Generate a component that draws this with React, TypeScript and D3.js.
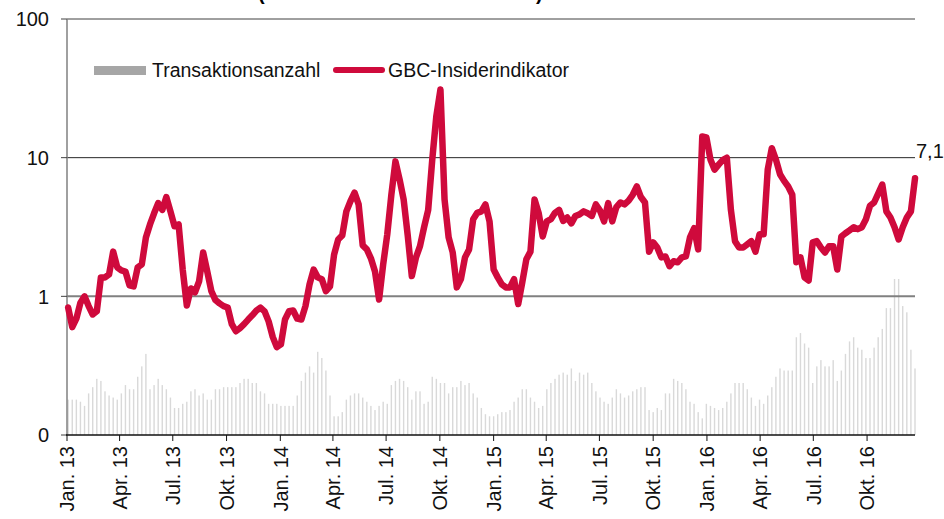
import { useRef, useEffect } from "react";
import * as d3 from "d3";

// weekly observations, first one on Thu 3 Jan 2013
const firstWeek = new Date(2013, 0, 3);

// GBC-Insiderindikator (log scale)
const indicator = [
  0.83, 0.6, 0.69, 0.9, 1.0, 0.85, 0.74, 0.78, 1.37, 1.37,
  1.44, 2.1, 1.62, 1.54, 1.51, 1.2, 1.18, 1.62, 1.7, 2.66,
  3.3, 3.97, 4.7, 4.2, 5.2, 4.1, 3.2, 3.3, 1.56, 0.86,
  1.14, 1.07, 1.28, 2.07, 1.51, 1.09, 0.94, 0.89, 0.85, 0.83,
  0.63, 0.56, 0.59, 0.63, 0.68, 0.73, 0.79, 0.83, 0.78, 0.66,
  0.51, 0.43, 0.45, 0.68, 0.78, 0.79, 0.69, 0.68, 0.85, 1.22,
  1.56, 1.37, 1.33, 1.09, 1.18, 2.0, 2.57, 2.75, 4.1, 4.85,
  5.6, 4.6, 2.33, 2.18, 1.88, 1.51, 0.95, 1.7, 2.8, 5.4,
  9.4, 7.0, 5.0, 2.75, 1.4, 1.9, 2.3, 3.15, 4.2, 9.7,
  20, 31, 5.0, 2.66, 2.07, 1.16, 1.33, 1.91, 2.18, 3.6,
  4.0, 4.1, 4.6, 3.47, 1.56, 1.37, 1.22, 1.16, 1.16, 1.33,
  0.88, 1.26, 1.85, 2.1, 5.0, 4.0, 2.7, 3.47, 3.6, 4.0,
  4.2, 3.5, 3.7, 3.36, 3.8, 3.9, 4.1, 3.97, 3.8, 4.6,
  4.15, 3.47, 4.7, 3.47, 4.4, 4.75, 4.6, 4.9, 5.4, 6.2,
  5.2, 4.75, 2.1, 2.45, 2.25, 1.91, 1.94, 1.65, 1.79, 1.76,
  1.91, 1.94, 2.66, 3.1, 2.18, 14.2, 14, 9.7, 8.2, 8.9,
  9.6, 10, 4.2, 2.5, 2.25, 2.25, 2.37, 2.5, 2.1, 2.8,
  2.8, 8.2, 11.7, 9.7, 7.6, 6.8, 6.2, 5.4, 1.76, 1.91,
  1.37, 1.3, 2.45, 2.5, 2.25, 2.07, 2.3, 2.3, 1.56, 2.7,
  2.85, 2.99, 3.15, 3.05, 3.15, 3.6, 4.5, 4.75, 5.5, 6.4,
  4.1, 3.7, 3.15, 2.57, 3.15, 3.7, 4.1, 7.1,
];

// Transaktionsanzahl per week (no visible axis)
const transactions = [
  17, 17, 17, 16, 14, 20, 23, 27, 26, 21,
  19, 18, 17, 20, 24, 22, 22, 28, 33, 39,
  22, 24, 27, 24, 22, 18, 13, 13, 15, 16,
  21, 22, 19, 20, 17, 17, 22, 22, 23, 23,
  23, 23, 25, 27, 27, 25, 25, 21, 20, 15,
  15, 15, 14, 14, 14, 14, 19, 26, 30, 33,
  30, 40, 37, 31, 19, 9, 9, 11, 17, 19,
  20, 20, 18, 16, 14, 12, 14, 16, 15, 24,
  26, 27, 26, 23, 17, 21, 21, 15, 16, 28,
  27, 25, 25, 20, 23, 23, 26, 24, 25, 20,
  18, 13, 10, 9, 9, 10, 11, 11, 12, 16,
  18, 22, 22, 18, 16, 13, 14, 22, 25, 27,
  29, 30, 29, 32, 26, 30, 29, 30, 25, 21,
  18, 16, 15, 18, 22, 20, 18, 19, 21, 22,
  23, 23, 12, 11, 13, 12, 20, 20, 27, 26,
  25, 22, 16, 15, 11, 8, 15, 14, 13, 12,
  13, 16, 20, 25, 25, 25, 22, 18, 14, 17,
  15, 19, 23, 28, 32, 31, 31, 31, 47, 49,
  44, 42, 25, 33, 36, 33, 33, 36, 26, 31,
  39, 45, 47, 42, 41, 37, 37, 42, 47, 51,
  61, 61, 75, 75, 62, 59, 41, 32,
];

const quarterLabels = [
  "Jan. 13", "Apr. 13", "Jul. 13", "Okt. 13",
  "Jan. 14", "Apr. 14", "Jul. 14", "Okt. 14",
  "Jan. 15", "Apr. 15", "Jul. 15", "Okt. 15",
  "Jan. 16", "Apr. 16", "Jul. 16", "Okt. 16",
];

const yTicks = [0.1, 1, 10, 100];
const lastValueLabel = "7,1";

const FONT = "'Liberation Sans', Arial, sans-serif";
const RED = "#cf0a3c";

const App = () => {
  const svgRef = useRef<SVGSVGElement | null>(null);

  useEffect(() => {
    if (!svgRef.current) return;
    const width = 944;
    const height = 519;
    const left = 67;
    const right = 915;
    const top = 19;
    const bottom = 435;

    const svg = d3
      .select(svgRef.current)
      .attr("width", width)
      .attr("height", height)
      .style("position", "absolute")
      .style("left", "0px")
      .style("top", "0px")
      .style("background", "#fff")
      .style("font-family", FONT);

    svg.selectAll("*").remove();

    const weeks = indicator.map((_, i) => d3.timeDay.offset(firstWeek, 7 * i));

    const x = d3
      .scaleTime()
      .domain([new Date(2013, 0, 1), weeks[weeks.length - 1]])
      .range([left, right]);

    const y = d3.scaleLog().domain([0.1, 100]).range([bottom, top]);
    const yBar = d3.scaleLinear().domain([0, 200]).range([bottom, top]);

    // title (cut off at the top edge, as in the source)
    svg.append("text").attr("x", 258).attr("y", 0).text("(")
      .style("font-size", "20px").style("font-weight", "bold");
    svg.append("text").attr("x", 536).attr("y", 0).text(")")
      .style("font-size", "20px").style("font-weight", "bold");

    // bars
    svg.append("g")
      .selectAll("rect")
      .data(transactions)
      .enter()
      .append("rect")
      .attr("x", (_, i) => x(weeks[i]) - 0.7)
      .attr("width", 1.4)
      .attr("y", (d) => yBar(d))
      .attr("height", (d) => bottom - yBar(d))
      .attr("fill", "#d9d9d9");

    // gridlines
    const gridColor: Record<number, [string, number]> = {
      100: ["#404040", 1],
      10: ["#262626", 1],
      1: ["#808080", 2],
    };
    yTicks.filter((t) => t > 0.1).forEach((t) => {
      svg.append("line")
        .attr("x1", left).attr("x2", right)
        .attr("y1", y(t)).attr("y2", y(t))
        .attr("stroke", gridColor[t][0])
        .attr("stroke-width", gridColor[t][1]);
    });

    // y axis
    svg.append("line")
      .attr("x1", left).attr("x2", left)
      .attr("y1", top).attr("y2", bottom)
      .attr("stroke", "#808080").attr("stroke-width", 1.5);

    const fmt = d3.format(".0f");
    yTicks.forEach((t) => {
      svg.append("line")
        .attr("x1", left - 6).attr("x2", left)
        .attr("y1", y(t)).attr("y2", y(t))
        .attr("stroke", "#404040");
      svg.append("text")
        .attr("x", 49).attr("y", y(t)).attr("dy", "0.36em")
        .attr("text-anchor", "end")
        .text(fmt(t))
        .style("font-size", "20px").style("fill", "#111");
    });

    // x axis
    svg.append("line")
      .attr("x1", left - 1).attr("x2", right)
      .attr("y1", bottom).attr("y2", bottom)
      .attr("stroke", "#111").attr("stroke-width", 1.5);

    const quarters = d3.timeMonths(new Date(2013, 0, 1), new Date(2016, 11, 1), 3);
    quarters.forEach((q, i) => {
      const qx = x(q);
      svg.append("line")
        .attr("x1", qx).attr("x2", qx)
        .attr("y1", bottom).attr("y2", bottom + 6)
        .attr("stroke", "#111");
      svg.append("text")
        .attr("transform", `translate(${qx},${bottom + 11}) rotate(-90)`)
        .attr("dy", "0.36em")
        .attr("text-anchor", "end")
        .text(quarterLabels[i])
        .style("font-size", "20px").style("fill", "#111");
    });

    // indicator line
    const line = d3
      .line<number>()
      .x((_, i) => x(weeks[i]))
      .y((d) => y(d));

    svg.append("path")
      .datum(indicator)
      .attr("d", line)
      .attr("fill", "none")
      .attr("stroke", RED)
      .attr("stroke-width", 6.5)
      .attr("stroke-linejoin", "round")
      .attr("stroke-linecap", "round");

    // last value label
    svg.append("text")
      .attr("x", right + 1)
      .attr("y", y(10))
      .text(lastValueLabel)
      .style("font-size", "20px").style("fill", "#111");

    // legend
    const legend = svg.append("g");
    legend.append("rect")
      .attr("x", 94).attr("y", 66).attr("width", 52).attr("height", 9)
      .attr("fill", "#a6a6a6");
    legend.append("text")
      .attr("x", 152).attr("y", 77)
      .text("Transaktionsanzahl")
      .style("font-size", "19.5px").style("fill", "#111");
    legend.append("line")
      .attr("x1", 336).attr("x2", 382)
      .attr("y1", 70).attr("y2", 70)
      .attr("stroke", RED).attr("stroke-width", 6)
      .attr("stroke-linecap", "round");
    legend.append("text")
      .attr("x", 388).attr("y", 77)
      .text("GBC-Insiderindikator")
      .style("font-size", "19.5px").style("fill", "#111");
  }, []);

  return <svg ref={svgRef}></svg>;
};

export default App;
